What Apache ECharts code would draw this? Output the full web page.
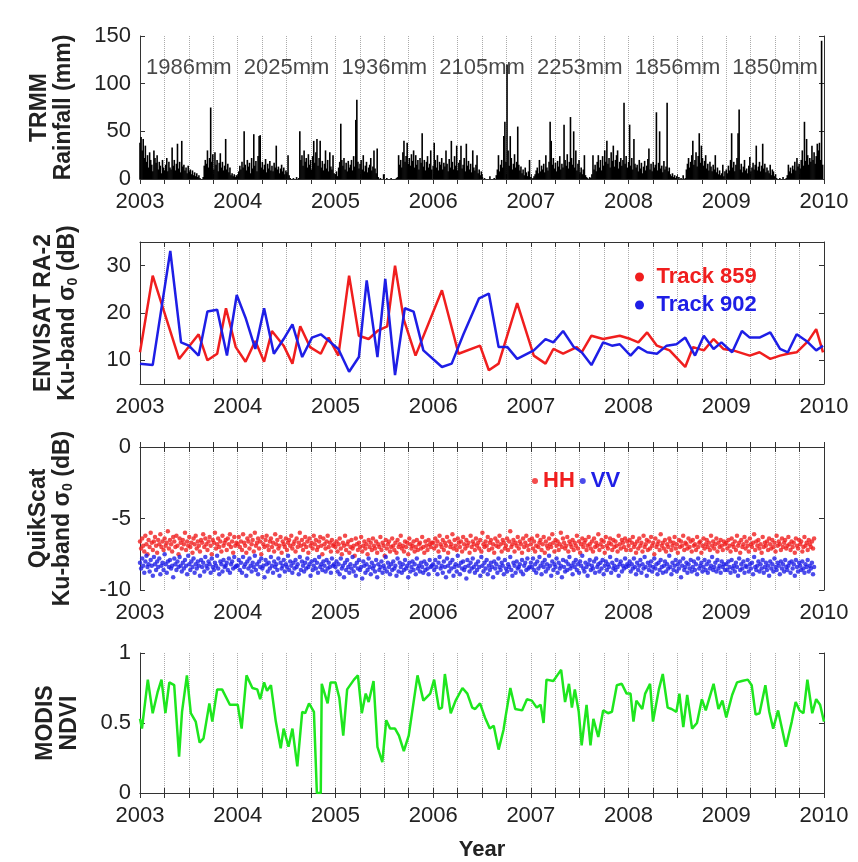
<!DOCTYPE html>
<html>
<head>
<meta charset="utf-8">
<script src="https://cdn.jsdelivr.net/npm/echarts@6.0.0/dist/echarts.min.js"></script>
<style>
  html, body { margin: 0; padding: 0; background: #fff; }
  #chart { width: 858px; height: 862px; }
</style>
</head>
<body>
<div id="chart"></div>
<script>
// TRMM rainfall (mm), one reading every 4 days from 1 Jan of each year
const rain2003 = [38,44,30,42,22,35,18,25,12,28,20,15,8,30,22,17,25,10,18,14,6,20,12,9,15,22,8,18,12,10,33,14,20,9,16,37,11,18,7,40,13,15,9,12,6,14,8,10,5,9,4,7,3,6,2,4,1,0,0,2,14,20,16,30,12,22,75,18,26,10,28,15,20,8,17,27,12,18,9,14,42,10,16,7,12,4,6,3,5,2,4]
const rain2004 = [3,8,14,10,18,12,50,15,9,20,13,17,6,22,11,47,14,19,8,24,45,46,12,18,10,15,21,7,16,11,19,9,14,8,17,12,35,10,13,6,11,15,8,12,5,9,7,25,4,1,0,0,1,0,0,2,0,1,50,20,25,14,30,18,22,12,26,15,20,10,24,40,17,28,42,14,22,40,12,19,9,16,30,11,20,8,28,13,10,25,6]
const rain2005 = [5,8,3,12,18,58,20,14,22,10,17,8,19,12,15,20,9,24,13,62,83,18,11,16,20,10,25,8,14,18,7,12,15,22,9,13,30,11,6,32,2,0,1,0,0,5,0,0,1,0,0,0,1,0,0,0,0,1,2,25,15,20,12,28,40,18,24,38,16,22,14,26,19,30,12,25,15,20,10,22,17,48,13,20,9,18,24,12,16,30,10]
const rain2006 = [14,38,20,12,25,9,18,15,22,10,17,13,30,16,8,21,12,40,18,10,24,14,35,9,17,20,35,11,15,22,8,37,14,19,10,16,7,30,12,9,15,25,6,10,4,8,2,0,1,0,0,0,0,3,0,0,0,1,0,4,10,25,8,15,20,12,45,60,18,120,30,14,45,22,10,16,26,12,18,55,15,9,13,6,10,4,12,7,3,8,20]
const rain2007 = [2,0,1,3,5,9,12,6,20,8,14,10,16,7,25,12,9,18,60,40,15,22,11,17,8,19,13,24,10,16,12,57,20,14,26,11,18,65,22,15,50,12,30,9,16,20,7,12,5,10,25,4,2,1,0,2,1,5,25,10,15,8,18,25,12,20,9,24,14,30,18,40,16,22,12,28,19,35,13,20,25,30,11,18,22,14,20,80,16,24,12]
const rain2008 = [18,57,14,22,10,42,16,12,15,8,20,11,17,6,13,19,9,14,21,32,10,16,8,18,12,15,70,9,17,50,11,14,7,19,10,13,80,8,12,5,3,6,2,4,1,3,0,2,0,1,0,4,0,1,10,16,22,12,18,25,40,15,20,28,13,24,48,17,35,22,14,19,25,11,16,9,18,13,8,15,10,25,7,12,5,9,4,6,15,3,8]
const rain2009 = [10,6,14,9,20,48,12,18,8,15,22,48,73,10,16,7,13,20,9,11,6,14,23,8,12,17,10,15,35,9,13,18,8,14,37,11,16,7,12,9,6,15,4,10,8,3,5,1,0,0,1,0,0,2,0,0,1,4,15,8,12,6,14,10,18,9,22,13,16,11,20,30,14,60,19,42,25,15,22,18,35,20,28,16,24,37,30,38,20,145,15]
const annualTotals = [1986, 2025, 1936, 2105, 2253, 1856, 1850]

// ENVISAT RA-2 Ku-band sigma0 (dB)
const track859Time = [2003.00,2003.13,2003.40,2003.60,2003.69,2003.79,2003.88,2003.98,2004.08,2004.18,2004.27,2004.35,2004.47,2004.56,2004.64,2004.74,2004.85,2004.93,2005.03,2005.14,2005.24,2005.34,2005.43,2005.53,2005.61,2005.70,2005.82,2006.09,2006.26,2006.48,2006.57,2006.67,2006.86,2007.03,2007.15,2007.23,2007.33,2007.47,2007.52,2007.62,2007.74,2007.91,2008.02,2008.10,2008.19,2008.29,2008.42,2008.58,2008.66,2008.77,2008.87,2008.97,2009.07,2009.24,2009.34,2009.45,2009.55,2009.63,2009.72,2009.84,2009.92,2009.99]
const track859 = [11.7,27.9,10.3,15.5,10.0,11.4,21.0,12.8,9.7,14.1,9.7,16.2,13.1,9.3,17.2,12.8,11.4,14.8,11.0,27.9,15.2,14.5,16.2,17.2,30.0,18.6,11.0,24.8,11.4,13.1,7.9,9.3,22.1,11.0,9.3,12.4,11.4,12.8,11.7,15.2,14.5,15.2,14.5,13.8,15.9,13.1,12.1,8.6,12.8,12.1,14.5,12.4,12.1,11.0,11.7,10.3,11.0,11.4,11.7,14.1,16.6,11.7]
const track902Time = [2003.00,2003.13,2003.31,2003.42,2003.50,2003.60,2003.69,2003.79,2003.89,2003.99,2004.08,2004.18,2004.27,2004.37,2004.47,2004.56,2004.66,2004.76,2004.85,2004.95,2005.03,2005.14,2005.24,2005.32,2005.43,2005.51,2005.61,2005.71,2005.80,2005.90,2006.09,2006.19,2006.31,2006.47,2006.57,2006.67,2006.76,2006.86,2007.03,2007.15,2007.23,2007.33,2007.44,2007.52,2007.62,2007.74,2007.83,2007.91,2008.02,2008.10,2008.19,2008.29,2008.39,2008.49,2008.58,2008.68,2008.77,2008.87,2008.95,2009.06,2009.16,2009.24,2009.34,2009.45,2009.55,2009.63,2009.72,2009.82,2009.92,2009.99]
const track902 = [9.3,9.0,33.1,13.8,13.1,11.0,20.3,20.7,11.0,23.8,19.0,12.4,21.0,11.4,14.5,17.6,10.7,14.8,15.5,13.8,12.4,7.6,10.7,26.9,10.7,27.2,6.9,21.0,20.3,12.1,8.6,9.3,15.5,23.1,24.1,12.8,12.8,10.3,12.1,14.5,13.8,16.2,12.8,11.7,9.0,13.8,13.1,13.4,11.0,12.8,11.7,11.4,13.1,13.4,14.8,11.0,15.2,12.4,13.8,11.7,16.2,14.8,14.8,15.9,12.4,11.7,15.5,14.1,12.1,13.1]

// QuikScat Ku-band sigma0, in tenths of dB, one reading every 4 days
const hh2003 = [-66,-71,-64,-69,-73,-62,-68,-75,-65,-70,-60,-67,-72,-66,-63,-69,-74,-65,-68,-61,-70,-66,-72,-64,-69,-67,-59,-71,-65,-68,-73,-63,-66,-70,-62,-69,-75,-64,-67,-71,-65,-68,-60,-72,-66,-69,-63,-70,-67,-74,-64,-68,-62,-71,-66,-69,-73,-65,-67,-61,-70,-64,-68,-72,-66,-63,-69,-75,-65,-67,-60,-71,-68,-64,-70,-66,-73,-62,-69,-67,-65,-72,-64,-68,-61,-70,-66,-74,-63,-69,-67]
const hh2004 = [-68,-63,-70,-66,-72,-61,-67,-69,-74,-64,-66,-71,-62,-68,-65,-73,-60,-69,-67,-64,-71,-66,-75,-63,-68,-70,-65,-62,-69,-72,-66,-64,-70,-67,-73,-61,-68,-65,-71,-69,-63,-74,-66,-68,-70,-64,-72,-67,-65,-69,-62,-71,-68,-66,-73,-64,-70,-67,-60,-69,-65,-72,-68,-63,-70,-66,-74,-64,-69,-67,-71,-62,-68,-65,-72,-70,-66,-63,-69,-75,-64,-68,-71,-66,-62,-70,-67,-73,-65,-69,-68]
const hh2005 = [-70,-66,-73,-68,-64,-71,-75,-67,-69,-62,-72,-68,-66,-74,-70,-65,-71,-69,-76,-64,-68,-72,-67,-70,-63,-73,-69,-66,-71,-68,-75,-65,-70,-67,-72,-64,-69,-71,-66,-74,-68,-70,-63,-72,-67,-69,-76,-65,-71,-68,-66,-73,-70,-64,-69,-72,-67,-74,-65,-70,-68,-62,-71,-69,-73,-66,-70,-67,-75,-64,-68,-71,-69,-66,-73,-70,-65,-72,-68,-67,-71,-63,-70,-74,-66,-69,-72,-65,-68,-70,-67]
const hh2006 = [-67,-71,-64,-69,-66,-73,-62,-68,-70,-65,-72,-67,-69,-63,-74,-66,-70,-68,-61,-71,-65,-69,-72,-64,-67,-70,-66,-73,-63,-68,-71,-65,-69,-67,-74,-62,-70,-66,-68,-72,-64,-69,-67,-71,-65,-73,-60,-68,-70,-66,-69,-63,-72,-67,-65,-71,-68,-74,-64,-69,-66,-70,-62,-68,-73,-65,-67,-71,-69,-64,-72,-66,-59,-70,-68,-65,-73,-67,-69,-63,-71,-66,-68,-74,-64,-70,-67,-62,-69,-72,-65]
const hh2007 = [-68,-64,-71,-66,-73,-69,-62,-70,-67,-65,-72,-68,-63,-74,-66,-69,-71,-64,-68,-70,-61,-67,-73,-65,-69,-66,-72,-68,-60,-70,-64,-67,-71,-69,-63,-73,-66,-68,-70,-65,-72,-67,-69,-62,-71,-66,-74,-68,-64,-70,-67,-65,-72,-69,-63,-68,-71,-66,-73,-64,-70,-67,-69,-61,-72,-68,-65,-70,-66,-74,-63,-69,-71,-67,-64,-68,-72,-65,-70,-66,-69,-73,-62,-68,-71,-65,-67,-70,-64,-72,-66]
const hh2008 = [-69,-65,-72,-67,-63,-70,-68,-74,-66,-71,-64,-69,-67,-73,-62,-70,-68,-65,-72,-66,-71,-63,-69,-67,-75,-64,-70,-68,-66,-72,-61,-69,-67,-71,-65,-73,-68,-70,-64,-66,-72,-69,-67,-63,-71,-68,-74,-65,-70,-66,-69,-62,-72,-67,-68,-71,-64,-70,-66,-73,-65,-69,-68,-72,-63,-70,-67,-66,-74,-69,-64,-71,-68,-65,-70,-67,-72,-62,-69,-66,-71,-68,-64,-73,-67,-70,-65,-69,-72,-66,-68]
const hh2009 = [-67,-71,-65,-69,-73,-64,-68,-70,-66,-72,-62,-69,-67,-74,-65,-70,-68,-63,-71,-66,-69,-73,-64,-68,-70,-67,-61,-72,-66,-69,-65,-71,-68,-74,-63,-70,-67,-69,-66,-72,-64,-68,-71,-65,-70,-67,-73,-62,-69,-66,-68,-72,-64,-70,-67,-65,-71,-69,-63,-68,-72,-66,-70,-67,-74,-64,-69,-71,-65,-68,-66,-73,-70,-63,-69,-67,-72,-65,-68,-70,-66,-71,-64]
const vv2003 = [-81,-85,-78,-83,-88,-80,-76,-84,-82,-87,-79,-83,-90,-77,-82,-86,-80,-84,-78,-89,-83,-81,-86,-75,-82,-88,-80,-84,-79,-85,-83,-91,-78,-82,-86,-80,-84,-77,-83,-87,-81,-85,-79,-83,-89,-76,-82,-86,-80,-84,-78,-88,-82,-85,-80,-83,-90,-79,-84,-81,-87,-77,-83,-85,-80,-82,-88,-78,-84,-86,-81,-83,-76,-85,-89,-80,-82,-87,-79,-84,-83,-81,-86,-78,-88,-82,-80,-85,-77,-84,-83]
const vv2004 = [-83,-79,-86,-81,-88,-77,-84,-82,-90,-80,-85,-78,-83,-87,-81,-84,-76,-86,-82,-89,-80,-84,-78,-85,-83,-91,-79,-82,-87,-81,-85,-77,-83,-88,-80,-84,-82,-86,-78,-90,-81,-85,-83,-79,-87,-82,-84,-76,-86,-80,-83,-88,-81,-85,-79,-84,-82,-89,-77,-86,-80,-83,-87,-81,-85,-78,-84,-82,-90,-80,-86,-83,-79,-85,-81,-88,-77,-84,-82,-86,-80,-83,-87,-79,-85,-81,-84,-88,-78,-83,-82]
const vv2005 = [-84,-80,-87,-82,-89,-78,-85,-83,-91,-81,-86,-79,-84,-88,-82,-85,-77,-87,-83,-90,-81,-85,-79,-86,-84,-92,-80,-83,-88,-82,-86,-78,-84,-89,-81,-85,-83,-87,-79,-91,-82,-86,-84,-80,-88,-83,-85,-77,-87,-81,-84,-89,-82,-86,-80,-85,-83,-90,-78,-87,-81,-84,-88,-82,-86,-79,-85,-83,-91,-81,-87,-84,-80,-86,-82,-89,-78,-85,-83,-87,-81,-84,-88,-80,-86,-82,-85,-89,-79,-84,-83]
const vv2006 = [-82,-86,-79,-84,-89,-81,-77,-85,-83,-88,-80,-84,-91,-78,-83,-87,-81,-85,-79,-90,-84,-82,-87,-76,-83,-89,-81,-85,-80,-86,-84,-92,-79,-83,-87,-81,-85,-78,-84,-88,-82,-86,-80,-84,-90,-77,-83,-87,-81,-85,-79,-89,-83,-86,-81,-84,-91,-80,-85,-82,-88,-78,-84,-86,-81,-83,-89,-79,-85,-87,-82,-84,-77,-86,-90,-81,-83,-88,-80,-85,-84,-82,-87,-79,-89,-83,-81,-86,-78,-85,-84]
const vv2007 = [-81,-84,-78,-86,-82,-88,-80,-85,-77,-83,-89,-81,-84,-79,-87,-82,-85,-76,-83,-90,-80,-86,-82,-84,-78,-88,-81,-85,-83,-91,-79,-84,-87,-80,-86,-82,-77,-85,-83,-89,-81,-84,-79,-86,-82,-88,-80,-83,-76,-85,-87,-81,-84,-90,-82,-79,-86,-83,-85,-80,-88,-78,-84,-82,-87,-81,-85,-79,-89,-83,-80,-86,-82,-84,-77,-88,-81,-85,-83,-86,-79,-84,-90,-82,-80,-87,-83,-85,-78,-84,-82]
const vv2008 = [-83,-80,-87,-82,-85,-78,-84,-89,-81,-86,-83,-79,-88,-82,-85,-77,-84,-90,-81,-86,-83,-80,-87,-84,-78,-85,-82,-89,-81,-86,-79,-84,-88,-83,-80,-87,-82,-85,-76,-84,-89,-81,-86,-83,-79,-87,-82,-85,-80,-91,-83,-78,-86,-84,-81,-88,-82,-85,-79,-87,-84,-80,-86,-82,-89,-78,-85,-83,-81,-87,-84,-79,-86,-82,-88,-80,-85,-83,-77,-86,-84,-81,-87,-79,-85,-83,-88,-80,-84,-82,-86]
const vv2009 = [-82,-86,-80,-84,-88,-79,-85,-83,-87,-81,-84,-90,-78,-86,-82,-85,-80,-88,-83,-84,-79,-87,-82,-85,-81,-89,-77,-84,-86,-83,-80,-87,-82,-85,-79,-88,-84,-81,-86,-83,-90,-80,-85,-82,-87,-78,-84,-86,-81,-83,-89,-80,-85,-82,-87,-79,-84,-86,-83,-81,-88,-80,-85,-82,-90,-79,-84,-87,-81,-83,-86,-80,-85,-88,-82,-84,-79,-87,-83,-85,-81,-89,-84]

// MODIS NDVI
const ndviTime = [2003.00,2003.02,2003.08,2003.13,2003.18,2003.22,2003.26,2003.30,2003.35,2003.40,2003.43,2003.48,2003.52,2003.57,2003.61,2003.65,2003.71,2003.74,2003.79,2003.84,2003.92,2004.00,2004.04,2004.09,2004.15,2004.20,2004.23,2004.27,2004.30,2004.34,2004.39,2004.44,2004.47,2004.52,2004.56,2004.61,2004.66,2004.69,2004.73,2004.78,2004.81,2004.85,2004.86,2004.92,2004.95,2005.00,2005.04,2005.08,2005.12,2005.19,2005.23,2005.27,2005.31,2005.34,2005.39,2005.43,2005.48,2005.52,2005.56,2005.61,2005.65,2005.70,2005.75,2005.84,2005.90,2005.97,2006.01,2006.06,2006.09,2006.12,2006.18,2006.23,2006.30,2006.35,2006.40,2006.43,2006.48,2006.53,2006.58,2006.62,2006.67,2006.72,2006.74,2006.79,2006.84,2006.91,2006.96,2007.01,2007.06,2007.10,2007.13,2007.16,2007.23,2007.27,2007.31,2007.35,2007.39,2007.42,2007.45,2007.49,2007.52,2007.57,2007.61,2007.64,2007.69,2007.74,2007.79,2007.83,2007.88,2007.93,2007.98,2008.02,2008.05,2008.08,2008.14,2008.17,2008.22,2008.25,2008.31,2008.35,2008.40,2008.44,2008.49,2008.52,2008.56,2008.60,2008.65,2008.70,2008.75,2008.79,2008.87,2008.92,2008.96,2009.00,2009.06,2009.11,2009.16,2009.22,2009.26,2009.30,2009.34,2009.40,2009.44,2009.48,2009.53,2009.61,2009.67,2009.71,2009.75,2009.79,2009.83,2009.88,2009.92,2009.96,2010.00]
const ndvi = [0.53,0.46,0.81,0.57,0.72,0.81,0.57,0.79,0.77,0.26,0.58,0.84,0.57,0.51,0.36,0.39,0.64,0.51,0.74,0.74,0.63,0.63,0.46,0.84,0.75,0.74,0.67,0.79,0.73,0.77,0.51,0.32,0.46,0.33,0.46,0.19,0.58,0.57,0.64,0.58,0.0,0.0,0.78,0.64,0.79,0.79,0.68,0.41,0.74,0.81,0.84,0.57,0.71,0.65,0.80,0.33,0.22,0.52,0.46,0.46,0.41,0.30,0.41,0.84,0.66,0.71,0.81,0.60,0.61,0.85,0.57,0.66,0.75,0.71,0.61,0.60,0.64,0.54,0.46,0.48,0.31,0.45,0.54,0.75,0.60,0.59,0.67,0.66,0.61,0.63,0.50,0.81,0.80,0.84,0.88,0.65,0.78,0.61,0.74,0.58,0.34,0.63,0.34,0.53,0.40,0.59,0.57,0.58,0.77,0.78,0.71,0.71,0.51,0.66,0.60,0.71,0.78,0.51,0.74,0.85,0.61,0.60,0.58,0.71,0.47,0.70,0.46,0.50,0.67,0.59,0.78,0.60,0.66,0.54,0.70,0.79,0.80,0.81,0.77,0.56,0.57,0.77,0.58,0.46,0.59,0.33,0.51,0.65,0.59,0.57,0.81,0.57,0.67,0.63,0.51]

const yearLabels = [2003, 2004, 2005, 2006, 2007, 2008, 2009, 2010]

const RED = "#f01e1e"
const BLUE = "#1e1ee6"
const GREEN = "#1ee61e"
const FONT = "Liberation Sans"
const STEP_DAYS = 4

// yearly arrays -> [decimal year, value]
const byDay = (years, scale) => {
  const out = []
  years.forEach((arr, k) => {
    arr.forEach((v, i) => out.push([yearLabels[k] + (i * STEP_DAYS) / 365, v * scale]))
  })
  return out
}
const pair = (t, v) => t.map((x, i) => [x, v[i]])

const rainData = byDay([rain2003, rain2004, rain2005, rain2006, rain2007, rain2008, rain2009], 1)
const hhData = byDay([hh2003, hh2004, hh2005, hh2006, hh2007, hh2008, hh2009], 0.1)
const vvData = byDay([vv2003, vv2004, vv2005, vv2006, vv2007, vv2008, vv2009], 0.1)

const grids = [
  { left: 140, top: 36, width: 684, height: 143 },
  { left: 140, top: 242, width: 684, height: 142 },
  { left: 140, top: 447, width: 684, height: 143 },
  { left: 140, top: 653, width: 684, height: 143 }
]

const ySpecs = [
  { min: 0, max: 150, interval: 50, name: "TRMM\nRainfall (mm)", gap: 64 },
  { min: 5, max: 35, interval: 5, ticks: [10, 20, 30], name: "ENVISAT RA-2\nKu-band σ{sub|0} (dB)", gap: 60 },
  { min: -10, max: 0, interval: 5, name: "QuikScat\nKu-band σ{sub|0} (dB)", gap: 65 },
  { min: 0, max: 1, interval: 0.5, name: "MODIS\nNDVI", gap: 58 }
]

const lineCol = { color: "#333", width: 1 }
const tickIn = { inside: true, length: 5, lineStyle: lineCol }

const xAxis = []
const yAxis = []
grids.forEach((g, i) => {
  xAxis.push({
    gridIndex: i, type: "value", min: 2003, max: 2010, interval: 0.25, position: "bottom",
    axisLine: { lineStyle: lineCol }, axisTick: tickIn,
    axisLabel: {
      formatter: (v) => (Math.abs(v - Math.round(v)) < 1e-6 ? String(Math.round(v)) : ""),
      fontSize: 22, color: "#222", fontFamily: FONT, margin: 12
    },
    splitLine: { show: true, lineStyle: { type: "dotted", color: "#ababab" } },
    name: i === 3 ? "Year" : "", nameLocation: "middle", nameGap: 46,
    nameTextStyle: { fontSize: 22, fontWeight: "bold", color: "#222", fontFamily: FONT }
  })
  xAxis.push({
    gridIndex: i, type: "value", min: 2003, max: 2010, interval: 0.25, position: "top",
    axisLine: { lineStyle: lineCol }, axisTick: tickIn, axisLabel: { show: false }, splitLine: { show: false }
  })
  const s = ySpecs[i]
  const tickOpt = s.ticks ? Object.assign({ customValues: s.ticks }, tickIn) : tickIn
  yAxis.push({
    gridIndex: i, type: "value", min: s.min, max: s.max, interval: s.interval, position: "left",
    axisLine: { show: true, lineStyle: lineCol }, axisTick: tickOpt, splitLine: { show: false },
    axisLabel: {
      customValues: s.ticks, fontSize: 22, color: "#222", fontFamily: FONT, margin: 9,
      formatter: (v) => (s.ticks && s.ticks.indexOf(v) < 0 ? "" : String(v))
    },
    name: s.name, nameLocation: "middle", nameRotate: 90, nameGap: s.gap,
    nameTextStyle: {
      fontSize: 23, fontWeight: "bold", color: "#222", fontFamily: FONT, lineHeight: 24,
      rich: { sub: { fontSize: 14, fontWeight: "bold", fontFamily: FONT, verticalAlign: "bottom", lineHeight: 14 } }
    }
  })
  yAxis.push({
    gridIndex: i, type: "value", min: s.min, max: s.max, interval: s.interval, position: "right",
    axisLine: { show: true, lineStyle: lineCol }, axisTick: tickOpt, axisLabel: { show: false }, splitLine: { show: false }
  })
})

const legendText = { fontSize: 22, fontWeight: "bold", fontFamily: FONT }

const option = {
  animation: false,
  backgroundColor: "#fff",
  grid: grids,
  xAxis: xAxis,
  yAxis: yAxis,
  legend: [
    {
      data: [
        { name: "Track 859", textStyle: { color: RED } },
        { name: "Track 902", textStyle: { color: BLUE } }
      ],
      orient: "vertical", left: 630, top: 261, icon: "circle", itemWidth: 24, itemHeight: 9, itemGap: 6,
      selectedMode: false, textStyle: legendText
    },
    {
      data: [
        { name: "HH", textStyle: { color: RED } },
        { name: "VV", textStyle: { color: BLUE } }
      ],
      orient: "horizontal", left: 527, top: 465, icon: "circle", itemWidth: 6, itemHeight: 6, itemGap: 5,
      selectedMode: false, textStyle: legendText
    }
  ],
  series: [
    {
      type: "bar", xAxisIndex: 0, yAxisIndex: 0, data: rainData, barWidth: 1.6,
      itemStyle: { color: "#000" }, silent: true
    },
    {
      // annual rainfall totals written over each year
      type: "scatter", xAxisIndex: 0, yAxisIndex: 0, symbolSize: 0, silent: true,
      data: annualTotals.map((t, k) => ({ value: [yearLabels[k] + 0.5, 116], label: { formatter: t + "mm" } })),
      label: { show: true, position: "inside", fontSize: 22, color: "#1a1a1a", fontFamily: FONT }
    },
    {
      name: "Track 859", type: "line", xAxisIndex: 2, yAxisIndex: 2, data: pair(track859Time, track859),
      showSymbol: false, color: RED, lineStyle: { width: 2.5, color: RED }
    },
    {
      name: "Track 902", type: "line", xAxisIndex: 2, yAxisIndex: 2, data: pair(track902Time, track902),
      showSymbol: false, color: BLUE, lineStyle: { width: 2.5, color: BLUE }
    },
    {
      name: "HH", type: "scatter", xAxisIndex: 4, yAxisIndex: 4, data: hhData,
      symbolSize: 4.5, itemStyle: { color: RED }
    },
    {
      name: "VV", type: "scatter", xAxisIndex: 4, yAxisIndex: 4, data: vvData,
      symbolSize: 4.5, itemStyle: { color: BLUE }
    },
    {
      type: "line", xAxisIndex: 6, yAxisIndex: 6, data: pair(ndviTime, ndvi),
      showSymbol: false, lineStyle: { width: 2.5, color: GREEN }
    }
  ]
}

const myChart = echarts.init(document.getElementById("chart"))
myChart.setOption(option)
</script>
</body>
</html>
